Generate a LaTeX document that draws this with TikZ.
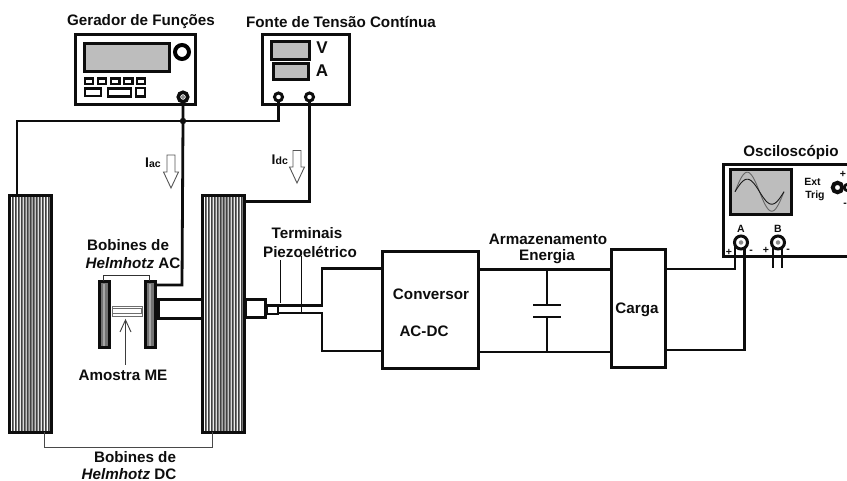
\documentclass[tikz,border=0pt]{standalone}
\usepackage{fontspec}
\setmainfont{Liberation Sans}
\usetikzlibrary{calc}
\definecolor{panel}{gray}{0.74}
\definecolor{ink}{gray}{0.05}
\tikzset{
  wire/.style={line width=2.8pt,draw=ink,line join=miter},
  boxed/.style={draw=ink,line width=3pt,rectangle,inner sep=0pt,outer sep=0pt,fill=white},
  screen/.style={boxed,fill=panel},
  btn/.style={boxed,line width=2.2pt},
  lbl/.style={font=\bfseries\fontsize{15.2}{17}\selectfont,text=ink,inner sep=0pt},
  big/.style={font=\bfseries\fontsize{17}{19}\selectfont,text=ink,inner sep=0pt},
  sm/.style={font=\bfseries\fontsize{10.5}{12}\selectfont,text=ink,inner sep=0pt},
  jack/.style={circle,draw=ink,line width=3pt,fill=white,inner sep=0pt,outer sep=0pt},
  hole/.style={circle,fill=black!45,minimum size=4.5pt,inner sep=0pt},
  hollow/.style={draw=ink!70,line width=0.9pt,fill=white,line join=miter},
  coil/.style={draw=ink,line width=3pt,rectangle,inner sep=0pt,outer sep=0pt,anchor=north west,minimum width=42pt,minimum height=236pt},
}
% name, x1, y1, x2, y2, style
\newcommand{\pxbox}[6]{\node[#6,anchor=north west,minimum width={(#4-#2)*1pt},minimum height={(#5-#3)*1pt}] (#1) at (#2,#3) {};}
% striped coil: x1 y1 x2 y2
\newcommand{\coilstripes}[4]{%
  \fill[black!52] (#1,#2) rectangle (#3,#4);
  \foreach \k in {0,...,13}{
    \pgfmathsetmacro{\xx}{#1+1.5+\k*3}
    \pgfmathsetmacro{\dd}{abs(\k-6.5)/6.5}
    \pgfmathsetmacro{\cc}{100-75*(1-\dd)*(1-\dd)}
    \fill[white!\cc!black!52] (\xx,#2) rectangle ++(1.3,#4-#2);
    \fill[black!75] (\xx+1.5,#2) rectangle ++(0.6,#4-#2);
  }
}
\begin{document}
\begin{tikzpicture}[x=1pt,y=-1pt]
\useasboundingbox (0,0) rectangle (847,481);
\fill[white] (0,0) rectangle (847,481);

% ---- function generator
\pxbox{gen}{75.5}{34.5}{195.5}{104.5}{boxed}
\pxbox{gendisp}{84.5}{43.5}{169.5}{71.5}{screen}
\node[circle,draw=black,line width=4pt,fill=white,minimum size=14pt,inner sep=0pt] (genknob) at (182,52) {};
\foreach \n/\a/\b in {1/85/93,2/98/106,3/111/119.5,4/124/132.5,5/137/145}{
  \pxbox{genb\n}{\a}{78.5}{\b}{84}{btn}
}
\pxbox{genc1}{85}{88.5}{101}{96}{btn}
\pxbox{genc2}{108}{88.5}{131}{96.5}{btn}
\pxbox{genc3}{136}{88}{145}{96.5}{btn}
\node[jack,line width=3.5pt,minimum size=9.5pt] (genout) at (183,97) {};
\node[hole,minimum size=4pt] at (183,97) {};
\node[lbl] (tgen) at (141,22) {Gerador de Funções};

% ---- DC source
\pxbox{src}{262.5}{34.5}{349}{104.5}{boxed}
\pxbox{srcv}{271.5}{41.5}{309.5}{60}{screen}
\pxbox{srca}{273.5}{64}{308.5}{80}{screen}
\node[big] (tv) at (322,48) {V};
\node[big] (ta) at (322,71) {A};
\node[jack,minimum size=8pt] (srcl) at (278.5,97) {};
\node[jack,minimum size=8pt] (srcr) at (309.5,97) {};
\node[lbl] (tsrc) at (341,22) {Fonte de Tensão Contínua};

% ---- DC coils
\coilstripes{9}{196}{51}{432}
\coilstripes{202}{196}{244}{432}
\node[coil] (dcl) at (9,196) {};
\node[coil] (dcr) at (202,196) {};
\coordinate (dcla) at (44.5,432);
\coordinate (dcra) at (212.5,432);
\draw[line width=1pt,draw=ink!75] (dcla) -- ++(0,15) -| (dcra);
\node[lbl] (tdc1) at (135,457) {Bobines de};
\node[lbl] (tdc2) at (129,474) {\textit{Helmhotz} DC};

% ---- AC coils
\pxbox{acl}{99}{282}{109.5}{348}{boxed,fill=black!55}
\pxbox{acr}{145}{282}{155.5}{348}{boxed,fill=black!55}
\draw[line width=1.6pt,draw=black!35] (104.2,284) -- (104.2,346);
\draw[line width=1.6pt,draw=black!35] (150.2,284) -- (150.2,346);
\coordinate (acla) at (103.5,281);
\coordinate (acra) at (149.5,281);
\draw[line width=1pt,draw=ink!85] (acla) -- ++(0,-5) -| (acra);
\node[lbl] (tac1) at (128,245) {Bobines de};
\node[lbl] (tac2) at (133,263) {\textit{Helmhotz} AC};

% ---- rods and sample
\pxbox{rodl}{158.5}{299.5}{202}{319}{boxed}
\draw[line width=0.9pt,draw=ink] (155.5,308) -- (158.5,308) (155.5,312) -- (158.5,312);
\pxbox{rodr}{245}{299.5}{265.5}{318}{boxed}
\pxbox{piezo}{267}{305.5}{278}{314}{boxed,line width=2.4pt}
\pxbox{sampleo}{112}{306}{142}{316}{boxed,line width=0.9pt,draw=ink!60}
\node[rectangle,draw=ink!60,line width=0.8pt,minimum width=29pt,minimum height=5pt,inner sep=0pt] (samplei) at (127,311) {};
\node[lbl] (tam) at (123,375) {Amostra ME};
\coordinate (amtip) at (125.5,320);
\draw[line width=0.9pt,draw=ink!80] (125.5,365) -- (amtip);
\draw[line width=0.9pt,draw=ink!80] (120,332) -- (amtip) -- (131,332);

% ---- wiring from instruments
\coordinate (junc) at (183,121);
\coordinate (dcltop) at (17,196);
\draw[wire] (dcltop) |- (junc) -| (srcl.south);
\draw[wire] (genout.south) -- (junc) -- (182,285) -- (acr.north east |- 0,285);
\fill[ink] (junc) circle (3.2pt);
\draw[wire] (srcr.south) |- (dcr.east |- 0,201.5);

% ---- current arrows
\draw[hollow] (167,155) -- (175,155) -- (175,172) -- (178.5,172) -- (171,188) -- (163.5,172) -- (167,172) -- cycle;
\draw[hollow] (293,150.5) -- (301,150.5) -- (301,167) -- (304.5,167) -- (297,183) -- (289.5,167) -- (293,167) -- cycle;
\node[inner sep=0pt,text=ink,anchor=base west] (tiac) at (145,168) {\bfseries\fontsize{14}{16}\selectfont I\fontsize{10.5}{12}\selectfont ac};
\node[inner sep=0pt,text=ink,anchor=base west] (tidc) at (271.5,165) {\bfseries\fontsize{14}{16}\selectfont I\fontsize{10.5}{12}\selectfont dc};

% ---- converter chain
\pxbox{conv}{382}{251.5}{478}{369}{boxed}
\pxbox{load}{611}{249.5}{665}{368}{boxed}
\node[lbl] (tc1) at (431,294) {Conversor};
\node[lbl] (tc2) at (424,331) {AC-DC};
\node[lbl] (tl) at (637,310) {Carga};
\node[lbl] (tarm) at (548,239) {Armazenamento};
\node[lbl] (ten) at (547,257) {Energia};
\node[lbl] (tt1) at (307,233) {Terminais};
\node[lbl] (tt2) at (310,252) {Piezoelétrico};

\draw[wire] (piezo.east |- 0,305.5) -- (322,305.5) |- (conv.west |- 0,268.5);
\draw[wire] (piezo.east |- 0,313) -- (322,313) |- (conv.west |- 0,351);
\coordinate (lead1) at (280.5,303.5);
\coordinate (lead2) at (301,312);
\draw[line width=1pt,draw=ink] (280.5,260) -- (lead1);
\draw[line width=1pt,draw=ink] (301,256) -- (lead2);
\draw[wire] (conv.east |- 0,269.5) -- (load.west |- 0,269.5);
\draw[wire] (conv.east |- 0,352) -- (load.west |- 0,352);
\coordinate (captop) at (547,269.5);
\coordinate (capbot) at (547,352);
\draw[wire] (captop) -- (547,305);
\draw[wire] (547,317) -- (capbot);
\draw[wire] (533,305) -- (561,305);
\draw[wire] (533,317) -- (561,317);

% ---- oscilloscope
\draw[boxed,fill=none] (850,164.5) -- (723.5,164.5) -- (723.5,257) -- (850,257);
\pxbox{scr}{730.5}{169.5}{791.5}{214.5}{screen}
\draw[line width=0.9pt,draw=black!60,domain=0:49,samples=50,smooth] plot ({735+\x},{191.7-19.5*sin(\x/49*360)});
\draw[line width=0.9pt,draw=black!90,domain=0:49,samples=50,smooth] plot ({735+\x},{191.7-12.5*sin(\x/49*360)});
\node[lbl] (tosc) at (791,153) {Osciloscópio};
\node[sm] (text) at (812.5,182) {Ext};
\node[sm] (ttr) at (815,195.5) {Trig};
\node[circle,draw=ink,line width=2.6pt,fill=white,minimum size=7pt,inner sep=0pt] (trigb) at (848,187.5) {};
\node[circle,draw=ink,line width=4pt,fill=white,minimum size=9.5pt,inner sep=0pt] (trig) at (837.5,187.5) {};
\node[sm] (tp) at (843,174) {+};
\node[sm] (tm) at (845,205) {-};
\node[sm] (ta2) at (741,228.5) {A};
\node[sm] (tb2) at (778,228.5) {B};
\draw[wire] (load.east |- 0,269) -| (735,246);
\draw[wire] (load.east |- 0,350) -| (744.5,246);
\draw[wire] (773,246) -- (773,268);
\draw[wire] (782,246) -- (782,268);
\node[jack,minimum size=13pt] (cha) at (741,242.5) {};
\node[hole] at (741,242.5) {};
\node[jack,minimum size=13pt] (chb) at (778,242.5) {};
\node[hole] at (778,242.5) {};
\node[sm] at (729,252) {+};
\node[sm] at (751,252) {-};
\node[sm] at (766,250.5) {+};
\node[sm] at (788,251) {-};
\end{tikzpicture}
\end{document}
